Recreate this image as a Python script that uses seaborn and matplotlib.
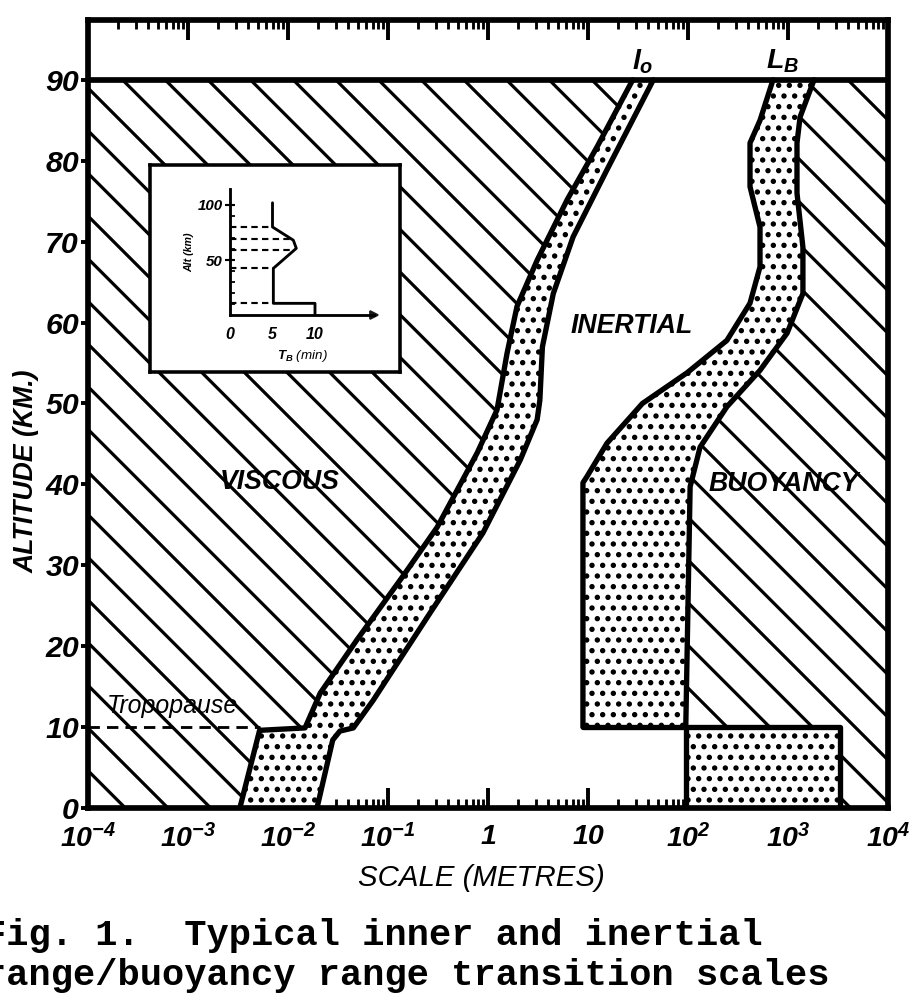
import matplotlib
matplotlib.use("Agg")
import matplotlib.pyplot as plt
from matplotlib.ticker import FixedLocator, NullFormatter, LogLocator
import seaborn as sns

# ---- data: altitude (km) vs scale (m) ----
# inner scale l0 band: viscous-side edge and inertial-side edge
l0_inner_alt = [0, 9.6, 9.9, 14.2, 20.8, 28.6, 34.7, 43.9, 49.2, 56.2, 62.0, 67.7, 75.2, 81.7, 90]
l0_inner_x = [0.0033, 0.0052, 0.0148, 0.021, 0.049, 0.14, 0.31, 0.78, 1.23, 1.55, 1.95, 3.1, 6.2, 12.3, 28]
l0_outer_alt = [0, 8.4, 9.5, 9.9, 13.3, 24, 34, 43, 48, 50.4, 57, 63.6, 70.6, 78.9, 90]
l0_outer_x = [0.0195, 0.028, 0.033, 0.045, 0.071, 0.26, 0.89, 2.1, 3.1, 3.3, 3.5, 4.5, 7.1, 15.5, 45]

# buoyancy scale LB band: inertial-side edge and buoyancy-side edge
lb_inner_alt = [10, 40.2, 41, 45.1, 50, 53.8, 57.8, 62.4, 66.9, 71.8, 76.8, 82.2, 85, 90]
lb_inner_x = [8.9, 8.9, 9.8, 15.5, 35, 98, 245, 417, 525, 525, 417, 417, 525, 708]
lb_outer_alt = [10, 39.7, 44.6, 49.6, 54.1, 58.7, 63.6, 69.3, 76, 82.2, 85.4, 90]
lb_outer_x = [95, 105, 132, 245, 525, 980, 1410, 1410, 1230, 1230, 1320, 1820]

# tropospheric LB box
box_x = [95, 3300]
box_alt = [0, 10]

tropopause_alt = 10
top_alt = 90
x_range = [1e-4, 1e4]

x_ticks = [1e-4, 1e-3, 1e-2, 1e-1, 1, 10, 1e2, 1e3, 1e4]
x_ticklabels = [r'$10^{-4}$', r'$10^{-3}$', r'$10^{-2}$', r'$10^{-1}$', '1', '10',
                r'$10^{2}$', r'$10^{3}$', r'$10^{4}$']
y_ticks = [0, 10, 20, 30, 40, 50, 60, 70, 80, 90]
y_minor = [5, 15, 25, 35, 45, 55, 65, 75, 85]

# inset: buoyancy period profile
tb_min = [5, 5, 7.45, 7.8, 5.1, 5.1, 10, 10]
tb_alt = [102, 80, 68, 60.6, 42.4, 10.6, 10.6, 0]
dash_alt = [80, 69, 59, 42.4, 10.6]
dash_tb = [5, 7.5, 7.7, 5.1, 5.1]

# ---- style ----
sns.set_theme(style="ticks")
plt.rcParams['font.family'] = ['Liberation Sans', 'DejaVu Sans']
plt.rcParams['mathtext.fontset'] = 'custom'
plt.rcParams['mathtext.rm'] = 'Liberation Sans:italic:bold'
plt.rcParams['mathtext.it'] = 'Liberation Sans:italic:bold'
plt.rcParams['mathtext.bf'] = 'Liberation Sans:italic:bold'
plt.rcParams['hatch.linewidth'] = 1.8
plt.rcParams['hatch.color'] = 'black'
for k in ['text.color', 'axes.labelcolor', 'xtick.color', 'ytick.color', 'axes.edgecolor']:
    plt.rcParams[k] = 'black'

DPI = 128
W, H = 918, 999
fig = plt.figure(figsize=(W / DPI, H / DPI), dpi=DPI)
fig.patch.set_facecolor('white')
ax = fig.add_axes([88 / W, 191 / H, 800 / W, 788 / H])
ax.set_facecolor('white')
ax.set_xscale('log')
ax.set_xlim(*x_range)
ax.set_ylim(0, 97.4)

# filled regions
visc_x = [x_range[0]] + l0_inner_x + [x_range[0]]
visc_y = [0] + l0_inner_alt + [top_alt]
ax.fill(visc_x, visc_y, facecolor='white', edgecolor='black', hatch='\\', linewidth=0)

buoy_x = lb_outer_x + [x_range[1], x_range[1], box_x[1], box_x[1]]
buoy_y = lb_outer_alt + [top_alt, 0, 0, box_alt[1]]
ax.fill(buoy_x, buoy_y, facecolor='white', edgecolor='black', hatch='\\', linewidth=0)

ax.fill(l0_inner_x + l0_outer_x[::-1], l0_inner_alt + l0_outer_alt[::-1],
        facecolor='white', edgecolor='black', hatch='..', linewidth=0)
ax.fill(lb_inner_x + lb_outer_x[::-1], lb_inner_alt + lb_outer_alt[::-1],
        facecolor='white', edgecolor='black', hatch='..', linewidth=0)
ax.fill([box_x[0], box_x[0], box_x[1], box_x[1]], [box_alt[0], box_alt[1], box_alt[1], box_alt[0]],
        facecolor='white', edgecolor='black', hatch='..', linewidth=0)


def edge(x, y, lw=3.0):
    sns.lineplot(x=x, y=y, sort=False, estimator=None, color='black',
                 linewidth=lw, ax=ax)


edge(l0_inner_x, l0_inner_alt)
edge(l0_outer_x, l0_outer_alt)
edge(lb_inner_x, lb_inner_alt)
edge(lb_outer_x, lb_outer_alt)
edge([lb_inner_x[0], box_x[1], box_x[1]], [box_alt[1], box_alt[1], box_alt[0]])
edge([box_x[0], box_x[0]], [box_alt[0], box_alt[1]])
ax.axhline(top_alt, color='black', linewidth=3.2)
ax.hlines(tropopause_alt, x_range[0], l0_inner_x[1], colors='black',
          linestyles=(0, (4, 2.5)), linewidth=1.6)

# region labels
lab = dict(fontsize=15, fontstyle='italic', fontweight='bold', ha='center', va='center',
           color='black')
ax.text(10 ** -2.08, 40.3, 'VISCOUS', **lab)
ax.text(10 ** 1.44, 59.6, 'INERTIAL', **lab)
ax.text(10 ** 2.955, 40.0, 'BUOYANCY', **lab)
ax.text(10 ** -3.16, 12.6, 'Tropopause', fontsize=14, fontstyle='italic', ha='center',
        va='center', color='black')
ax.text(10 ** 1.55, 92.3, r'$l_o$', fontsize=16, ha='center', va='center')
ax.text(10 ** 2.95, 92.3, r'$L_B$', fontsize=16, ha='center', va='center')

# axes, ticks
ax.set_xticks(x_ticks)
ax.set_xticklabels(x_ticklabels)
ax.xaxis.set_minor_locator(LogLocator(base=10, subs=range(2, 10)))
ax.xaxis.set_minor_formatter(NullFormatter())
ax.set_yticks(y_ticks)
ax.yaxis.set_minor_locator(FixedLocator(y_minor))
ax.tick_params(axis='x', which='major', direction='in', length=11, width=2.2,
               top=True, labelsize=16, pad=9)
ax.tick_params(axis='x', which='minor', direction='in', length=5, width=1.6, top=True)
ax.tick_params(axis='y', which='major', direction='out', length=4, width=2.2,
               labelsize=17, pad=1)
ax.tick_params(axis='y', which='minor', direction='in', length=4, width=1.5)
for t in ax.get_yticklabels() + ax.get_xticklabels():
    t.set_fontstyle('italic')
    t.set_fontweight('bold')
for s in ax.spines.values():
    s.set_visible(True)
    s.set_linewidth(3.2)
    s.set_color('black')

ax.set_xlabel('SCALE (METRES)', fontsize=16.5, fontstyle='italic')
ax.xaxis.set_label_coords((481 - 88) / 800, (808 - 864) / 788)
ax.set_ylabel('ALTITUDE (KM.)', fontsize=15, fontstyle='italic', fontweight='bold')
ax.yaxis.set_label_coords((40 - 88) / 800, (808 - 471) / 788)

# inset frame
box = fig.add_axes([150 / W, (H - 372) / H, 250 / W, 207 / H], zorder=5)
box.set_facecolor('white')
box.set_xticks([])
box.set_yticks([])
for s in box.spines.values():
    s.set_visible(True)
    s.set_linewidth(2.0)
    s.set_color('black')

ins = fig.add_axes([230 / W, (H - 315) / H, 144.5 / W, 126.5 / H], zorder=6)
ins.patch.set_alpha(0)
ins.set_xlim(0, 17)
ins.set_ylim(0, 115)
sns.lineplot(x=tb_min, y=tb_alt, sort=False, estimator=None, color='black',
             linewidth=1.6, ax=ins)
ins.hlines(dash_alt, 0, dash_tb, colors='black', linestyles=(0, (3, 2)), linewidth=1.2)
ins.plot(1, 0, '>k', markersize=4, transform=ins.get_yaxis_transform(), clip_on=False)
sns.despine(ax=ins)
for s in ['left', 'bottom']:
    ins.spines[s].set_linewidth(1.6)
    ins.spines[s].set_color('black')
ins.set_xticks([0, 5, 10])
ins.set_yticks([50, 100])
ins.yaxis.set_minor_locator(FixedLocator([10, 20, 30, 40, 60, 70, 80, 90]))
ins.tick_params(axis='x', length=0, labelsize=9, pad=7)
ins.tick_params(axis='y', which='major', direction='inout', length=6, width=1.2,
                labelsize=8.5, pad=1)
ins.tick_params(axis='y', which='minor', direction='in', length=3, width=1.0)
for t in ins.get_xticklabels() + ins.get_yticklabels():
    t.set_fontstyle('italic')
    t.set_fontweight('bold')
ins.set_xlabel(r'$T_B$ (min)', fontsize=7.5, fontstyle='italic', labelpad=3)
ins.set_ylabel('Alt (km)', fontsize=6, fontstyle='italic', fontweight='bold', labelpad=2)

# caption
cap = dict(family=['Liberation Mono', 'DejaVu Sans Mono'], fontweight='bold', fontsize=20.8,
           va='baseline', ha='left', color='black')
fig.text(-16 / W, 1 - 945 / H, 'Fig. 1.  Typical inner and inertial', **cap)
fig.text(-16 / W, 1 - 985 / H, 'range/buoyancy range transition scales', **cap)

fig.savefig('out.png', dpi=DPI, facecolor='white')
